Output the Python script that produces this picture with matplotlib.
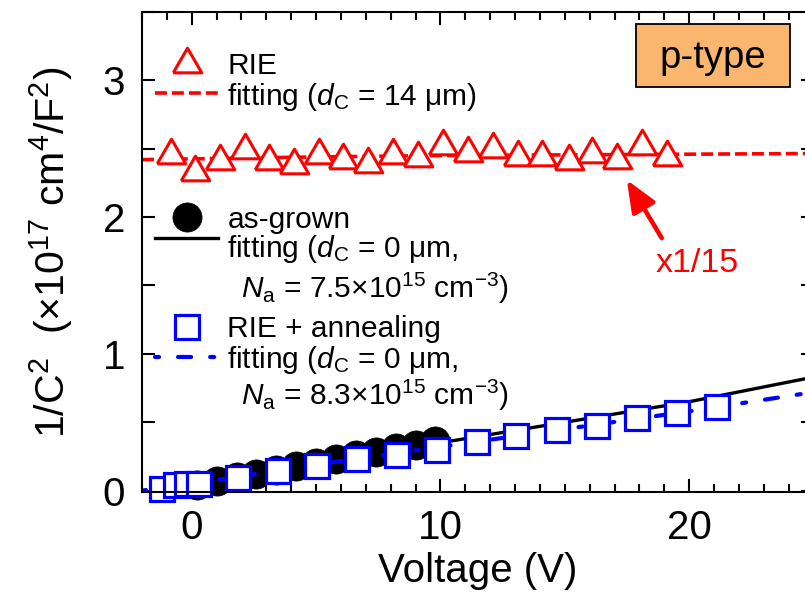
import matplotlib
matplotlib.use('Agg')
import matplotlib.pyplot as plt
from matplotlib.patches import Rectangle
from matplotlib.ticker import MultipleLocator

plt.rcParams['font.family'] = 'Liberation Sans'
plt.rcParams['mathtext.fontset'] = 'custom'
plt.rcParams['mathtext.rm'] = 'Liberation Sans'
plt.rcParams['mathtext.it'] = 'Liberation Sans:italic'
plt.rcParams['lines.scale_dashes'] = False

# RIE (x1/15), open triangles
v_rie = [-0.85, 0.15, 1.15, 2.15, 3.1, 4.1, 5.1, 6.1, 7.1, 8.1, 9.1, 10.1, 11.1,
         12.1, 13.1, 14.1, 15.15, 16.1, 17.1, 18.1, 19.1]
c_rie = [2.48, 2.36, 2.44, 2.52, 2.44, 2.41, 2.48, 2.45, 2.42, 2.48, 2.46, 2.55, 2.50,
         2.53, 2.47, 2.47, 2.44, 2.49, 2.45, 2.55, 2.47]
v_rie_fit = [-2, 5, 10, 15, 20, 25]
c_rie_fit = [2.42, 2.44, 2.45, 2.455, 2.46, 2.465]

# as-grown, filled circles
v_grown = [0.2, 1.0, 1.8, 2.6, 3.4, 4.2, 5.0, 5.8, 6.6, 7.4, 8.2, 9.0, 9.8]
c_grown = [0.04, 0.07, 0.10, 0.12, 0.15, 0.18, 0.20, 0.23, 0.26, 0.28, 0.31, 0.33, 0.36]
v_grown_fit = [-2, 0, 5, 10, 15, 20, 25]
c_grown_fit = [-0.03, 0.03, 0.19, 0.35, 0.50, 0.65, 0.83]

# RIE + annealing, open squares
v_ann = [-1.2, -0.65, -0.2, 0.3, 1.85, 3.45, 5.05, 6.65, 8.25, 9.85, 11.45, 13.05,
         14.7, 16.3, 17.9, 19.5, 21.1]
c_ann = [0.015, 0.04, 0.045, 0.05, 0.09, 0.14, 0.18, 0.23, 0.26, 0.30, 0.355, 0.40,
         0.44, 0.47, 0.53, 0.57, 0.61]
v_ann_fit = [-2, 0, 5, 10, 15, 20, 25]
c_ann_fit = [0.0, 0.05, 0.19, 0.32, 0.45, 0.58, 0.72]

red = '#FF0000'
blue = '#0000FF'
tri = [(-1, -0.866), (1, -0.866), (0, 0.866), (-1, -0.866)]

fig = plt.figure(figsize=(8.05, 5.98), dpi=100)
ax = fig.add_axes([0.1764, 0.1773, 0.8342, 0.8027])

red_dash = dict(color=red, lw=2.6, dashes=[8.6, 3.6])
blue_dot = dict(color=blue, lw=3.0, dashes=[2.9, 13.7, 9.4, 13.7], dash_capstyle='round')
black_line = dict(color='black', lw=2.4)
tri_style = dict(marker=tri, ms=20.5, mfc='white', mec=red, mew=2.2, ls='none')
circ_style = dict(marker='o', ms=21, mfc='black', mec='black', mew=0.5, ls='none')
sq_style = dict(marker='s', ms=17.5, mfc='white', mec=blue, mew=2.3, ls='none')

ax.plot(v_rie_fit, c_rie_fit, zorder=2, **red_dash)
ax.plot(v_rie, c_rie, zorder=3, clip_on=False, **tri_style)
ax.plot(v_grown, c_grown, zorder=3, clip_on=False, **circ_style)
ax.plot(v_grown_fit, c_grown_fit, zorder=4, **black_line)
ax.plot(v_ann_fit, c_ann_fit, zorder=4, **blue_dot)
ax.plot(v_ann, c_ann, zorder=5, clip_on=False, **sq_style)

ax.set_xlim(-2, 25)
ax.set_ylim(-0.01, 3.5)
ax.xaxis.set_major_locator(MultipleLocator(10))
ax.xaxis.set_minor_locator(MultipleLocator(1))
ax.yaxis.set_major_locator(MultipleLocator(1))
ax.yaxis.set_minor_locator(MultipleLocator(0.5))
ax.tick_params(which='both', direction='in', top=True, right=True, width=1.5,
               labelsize=29, pad=12)
ax.tick_params(which='major', length=9.5)
ax.tick_params(axis='x', which='minor', length=5.5)
ax.tick_params(axis='y', which='minor', length=9.5)
for s in ax.spines.values():
    s.set_linewidth(1.5)
    s.set_zorder(6)

ax.set_xlabel('Voltage (V)', fontsize=29, labelpad=4)
ax.set_ylabel('1/C$^2$  (×10$^{17}$ cm$^4$/F$^2$)', fontsize=29.5, labelpad=20)

# legend, drawn by hand
fs = 21.5
kx0, kx1, kc, tx, tx2 = 0.019, 0.113, 0.067, 0.127, 0.147
T = ax.transAxes
ax.plot([kc], [0.900], transform=T, clip_on=False, **tri_style)
ax.text(tx, 0.871, 'RIE', transform=T, fontsize=fs, va='baseline')
ax.plot([kx0, kx1], [0.831, 0.831], transform=T, clip_on=False, **red_dash)
ax.text(tx, 0.806, r'fitting ($d_\mathrm{C}$ = 14 μm)', transform=T, fontsize=fs, va='baseline')

ax.plot([kc], [0.573], transform=T, clip_on=False, **circ_style)
ax.text(tx, 0.550, 'as-grown', transform=T, fontsize=fs, va='baseline')
ax.plot([kx0, kx1], [0.529, 0.529], transform=T, clip_on=False, **black_line)
ax.text(tx, 0.490, r'fitting ($d_\mathrm{C}$ = 0 μm,', transform=T, fontsize=fs, va='baseline')
ax.text(tx2, 0.404, r'$N_\mathrm{a}$ = 7.5×10$^{15}$ cm$^{-3}$)', transform=T, fontsize=fs,
        va='baseline')

ax.plot([kc], [0.344], transform=T, clip_on=False, **sq_style)
ax.text(tx, 0.323, 'RIE + annealing', transform=T, fontsize=fs, va='baseline')
ax.plot([kx0, kx1], [0.281, 0.281], transform=T, clip_on=False, **blue_dot)
ax.text(tx, 0.258, r'fitting ($d_\mathrm{C}$ = 0 μm,', transform=T, fontsize=fs, va='baseline')
ax.text(tx2, 0.181, r'$N_\mathrm{a}$ = 8.3×10$^{15}$ cm$^{-3}$)', transform=T, fontsize=fs,
        va='baseline')

# p-type box
ax.add_patch(Rectangle((0.7356, 0.8438), 0.2294, 0.1312, transform=T,
                       facecolor='#FAB56E', edgecolor='black', lw=1.3, zorder=6))
ax.text(0.850, 0.905, 'p-type', transform=T, fontsize=27.5, ha='center', va='center', zorder=7)

# arrow and scale note
ax.annotate('', xy=(0.722, 0.650), xytext=(0.774, 0.529), xycoords=T,
            arrowprops=dict(arrowstyle='-|>,head_length=1.2,head_width=0.5', lw=3.3,
                            color=red, mutation_scale=16, shrinkA=0, shrinkB=0))
ax.text(0.8265, 0.458, 'x1/15', transform=T, fontsize=24.5, color=red, ha='center',
        va='baseline')

fig.savefig('out.png', dpi=100)
